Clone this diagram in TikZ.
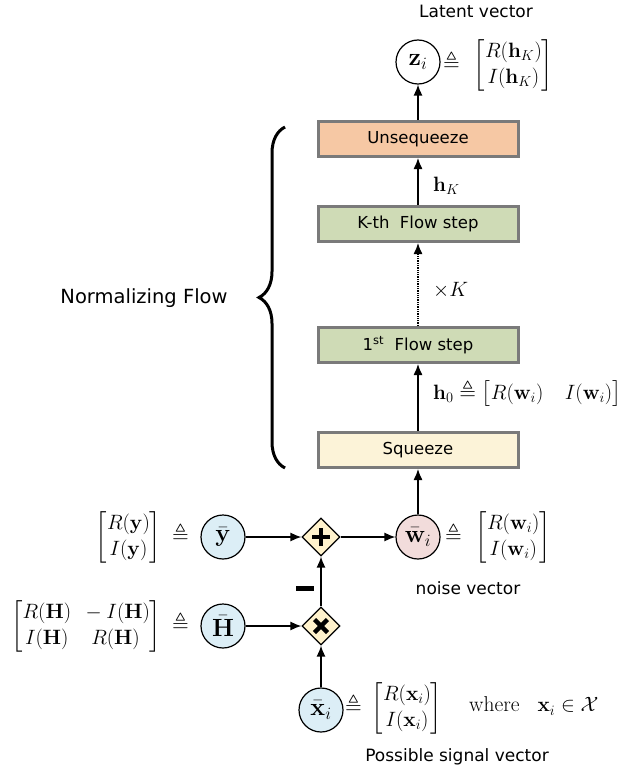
\documentclass[tikz,border=0pt]{standalone}
\usepackage{amsmath,amssymb}
\usepackage[no-math]{fontspec}
\newfontfamily\comic{DejaVu Sans}
\usetikzlibrary{arrows.meta,shapes.geometric,decorations.pathreplacing}
\definecolor{boxgray}{HTML}{7A7A7A}
\definecolor{unsqfill}{HTML}{F6C8A4}
\definecolor{flowfill}{HTML}{CFDBB6}
\definecolor{sqfill}{HTML}{FCF3D8}
\definecolor{bluefill}{HTML}{DCEEF6}
\definecolor{pinkfill}{HTML}{F2DCDB}
\definecolor{opfill}{HTML}{FFF2CC}
\begin{document}
\begin{tikzpicture}[x=1pt,y=-1pt,
  lbl/.style={font=\fontsize{17}{20}\selectfont\comic,inner sep=1pt},
  mth/.style={font=\fontsize{21.5}{26}\selectfont,inner sep=0pt},
  blk/.style={rectangle,draw=boxgray,line width=3pt,minimum width=200pt,minimum height=35pt,inner sep=0pt,font=\fontsize{16.5}{19}\selectfont\comic},
  circ/.style={circle,draw,line width=1.2pt,minimum size=44pt,inner sep=0pt,font=\fontsize{23}{26}\selectfont},
  op/.style={diamond,draw,fill=opfill,line width=1.2pt,minimum width=38pt,minimum height=38pt,inner sep=0pt},
  conn/.style={line width=1.3pt,-{Latex[length=11pt,width=9pt]}}]
\useasboundingbox (0,0) rectangle (641,776);

% blocks
\node[blk,fill=unsqfill] (unsq) at (418,139) {Unsequeeze};
\node[blk,fill=flowfill] (kth) at (418,224) {K-th\ \ Flow step};
\node[blk,fill=flowfill] (first) at (418,345) {1\textsuperscript{st}\ \ Flow step};
\node[blk,fill=sqfill] (sq) at (418,450) {Squeeze};

% circles
\node[circ] (z) at (418,62) {$\mathbf{z}_i$};
\node[circ,fill=pinkfill] (w) at (418,537) {$\bar{\mathbf{w}}_i$};
\node[circ,fill=bluefill] (y) at (223,537) {$\bar{\mathbf{y}}$};
\node[circ,fill=bluefill] (H) at (223,626) {$\bar{\mathbf{H}}$};
\node[circ,fill=bluefill] (x) at (321,710) {$\bar{\mathbf{x}}_i$};

% operators
\node[op] (plus) at (321,537) {};
\node[op] (times) at (321,626) {};
\draw[line width=4.5pt] ([xshift=-9pt]plus.center) -- ([xshift=9pt]plus.center);
\draw[line width=4.5pt] ([yshift=-9pt]plus.center) -- ([yshift=9pt]plus.center);
\draw[line width=4.5pt] ([shift={(-6.5pt,-6.5pt)}]times.center) -- ([shift={(6.5pt,6.5pt)}]times.center);
\draw[line width=4.5pt] ([shift={(-6.5pt,6.5pt)}]times.center) -- ([shift={(6.5pt,-6.5pt)}]times.center);
\node[inner sep=0pt] (minus) at (305,588) {\rule{18pt}{5pt}};

% connectors
\draw[conn] (x) -- (times);
\draw[conn] (times) -- (plus);
\draw[conn] (H) -- (times);
\draw[conn] (y) -- (plus);
\draw[conn] (plus) -- (w);
\draw[conn] (w) -- (sq);
\draw[conn] (sq) -- (first);
\draw[conn,densely dotted] (first) -- (kth);
\draw[conn] (kth) -- (unsq);
\draw[conn] (unsq) -- (z);

% math labels
\node[mth,anchor=west] (zdef) at (443,65) {$\triangleq\hspace{8pt}\begin{bmatrix}R(\mathbf{h}_K)\\ I(\mathbf{h}_K)\end{bmatrix}$};
\node[mth,anchor=west] (hK) at (433,186) {$\mathbf{h}_K$};
\node[mth,anchor=west] (xK) at (433,290) {$\times K$};
\node[mth,anchor=west] (h0) at (433,393) {$\mathbf{h}_0 \triangleq \bigl[R(\mathbf{w}_i)\quad I(\mathbf{w}_i)\bigr]$};
\node[mth,anchor=west] (wdef) at (445,537) {$\triangleq\hspace{8pt}\begin{bmatrix}R(\mathbf{w}_i)\\ I(\mathbf{w}_i)\end{bmatrix}$};
\node[mth,anchor=east] (ydef) at (189,537) {$\begin{bmatrix}R(\mathbf{y})\\ I(\mathbf{y})\end{bmatrix}\hspace{5pt}\triangleq$};
\node[mth,anchor=east] (Hdef) at (189,626) {$\begin{bmatrix}R(\mathbf{H}) & {}-I(\mathbf{H})\\ I(\mathbf{H}) & R(\mathbf{H})\end{bmatrix}\hspace{5pt}\triangleq$};
\node[mth,anchor=west] (xdef) at (345,708) {$\triangleq\hspace{4pt}\begin{bmatrix}R(\mathbf{x}_i)\\ I(\mathbf{x}_i)\end{bmatrix}$};
\node[mth,anchor=west] (where) at (469,706) {where\hspace{18pt}$\mathbf{x}_i\in\mathcal{X}$};

% text labels
\node[lbl] (latent) at (476,11) {Latent vector};
\node[lbl] (noise) at (468,588) {noise vector};
\node[lbl] (signal) at (457,757) {Possible signal vector};
\node[lbl,font=\fontsize{19.5}{23}\selectfont\comic] (nf) at (144,298) {Normalizing Flow};

% brace
\draw[line width=3pt,decorate,decoration={brace,amplitude=26pt}] (285,468) -- (285,127);
\end{tikzpicture}
\end{document}
